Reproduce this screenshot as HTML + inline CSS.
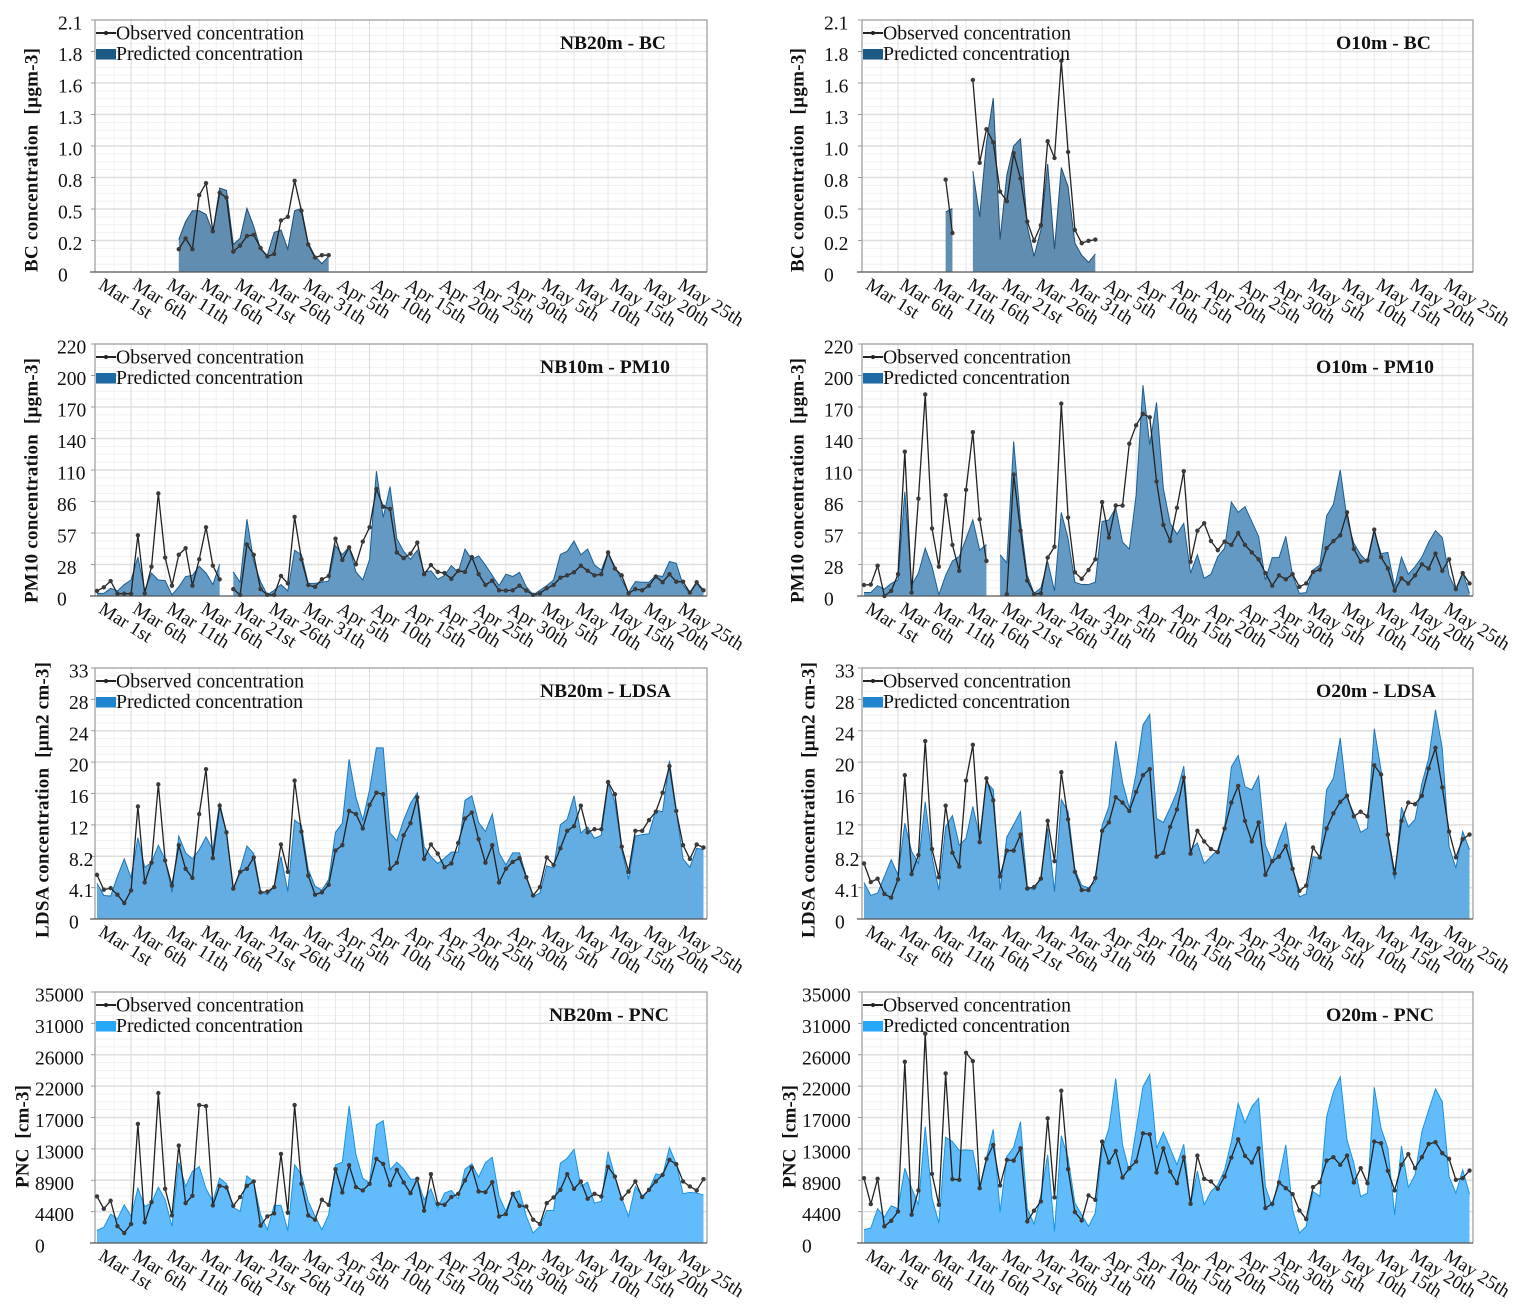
<!DOCTYPE html>
<html lang="en">
<head>
<meta charset="utf-8">
<title>Observed and predicted concentrations</title>
<style>
html,body{margin:0;padding:0;background:#fff;}
svg{display:block;font-family:"Liberation Serif",serif;}
</style>
</head>
<body>
<svg id="figure" xmlns="http://www.w3.org/2000/svg" width="1524" height="1310" viewBox="0 0 1524 1310"></svg>
<script>
const dateLabels = ["Mar 1st","Mar 6th","Mar 11th","Mar 16th","Mar 21st","Mar 26th","Mar 31th","Apr 5th","Apr 10th","Apr 15th","Apr 20th","Apr 25th","Apr 30th","May 5th","May 10th","May 15th","May 20th","May 25th"];
const bcTicks = ["0","0.2","0.5","0.8","1.0","1.3","1.6","1.8","2.1"];
const pm10Ticks = ["0","28","57","86","110","140","170","200","220"];
const ldsaTicks = ["0","4.1","8.2","12","16","20","24","28","33"];
const pncTicks = ["0","4400","8900","13000","17000","22000","26000","31000","35000"];
const bcMax = 2.1;
const pm10Max = 220;
const ldsaMax = 33;
const pncMax = 35000;

const nb20BcObserved = [null,null,null,null,null,null,null,null,null,null,null,null,.19,.28,.19,.64,.74,.34,.66,.62,.17,.22,.30,.31,.20,.13,.15,.43,.46,.76,.51,.23,.12,.14,.14];
const nb20BcPredicted = [null,null,null,null,null,null,null,null,null,null,null,null,.27,.42,.51,.51,.48,.33,.70,.68,.23,.28,.53,.38,.19,.14,.33,.35,.19,.51,.53,.24,.13,.07,.13];

const o10BcObserved = [null,null,null,null,null,null,null,null,null,null,null,null,.77,.325,null,null,1.60,.91,1.19,1.08,.67,.59,.99,.78,.42,.26,.39,1.09,.95,1.76,1.0,.35,.24,.26,.27];
const o10BcPredicted = [null,null,null,null,null,null,null,null,null,null,null,null,.50,.53,null,null,.84,.46,1.08,1.45,.27,.81,1.05,1.11,.38,.13,.35,.90,.19,.87,.71,.24,.14,.08,.15];

const nb10Pm10Observed = [4.4,7.6,13,2,2,2,53,2.3,25.6,89.5,33.5,9,36,41.7,9,32,60,26.5,14.6,null,6,1,45,36,6,1,1,17.5,11,69,32,9.6,8,14.6,17.5,50,31.5,42.5,27.7,47.5,60,93.5,78,76,38,33,37,46.6,19,27,21,20,15,22,21,34,19,9.6,13.4,5,4.7,5,9,4.7,1,2.3,6.7,9.6,16,18,20.7,26.5,22,18,19,38,24,18,2.3,6,5,9,17,12,19,12.5,12.5,3,12,5];
const nb10Pm10Predicted = [2.3,2.3,6.7,4.4,10,14,34,5,20,14,13.4,1,8,17,18,26,20,10,27.7,null,21,12,67,30,12.5,1,5,10,4.4,40,36,11,11,12,13,44,36,43,21,14,32,109,68.5,95.5,50,39,32,40,21,22,14.6,18,26.5,20.7,41,32,35,27,18,9,19,17,20.7,8,1,5,9,14,36.4,39,48,36,41,27,22.7,38,25.6,14,3,12.5,12,12,18,17,30,28.6,9.6,2.3,11,3.8];

const o10Pm10Observed = [9.6,10,26.5,0,4.4,19,126,3,85,176,59,25.6,88,44.6,22,92.7,143,67,30.6,null,null,1.5,106,57,13.4,1.7,2.3,33.5,43,168,68.5,20.7,15,22.7,32,82,51,79,79,133,149,159,156,100,62,48,77,109,30,57,63.5,48,40,47.5,44.6,55,44.6,38,32,20,9,18,14.6,19,8,11,21,23,41.7,48,53,73,41,30,31,58,34,24,4.7,15.4,11,18,27.7,24,37,22,32,6,20,11];
const o10Pm10Predicted = [3,3,9,6,11,14,91,9.6,20,41.7,25.6,1,18,30.6,34.4,50,66.4,40,45,null,36,29,135,65,18,2.3,7,30,4.4,73,50,12,10,10,12,65,66.4,77,47,41,88,184,132,169,94,63.5,54,63.5,20,36,15.4,19,34.4,41.7,82,73,78,65,52,14,33.5,33.5,52,18,2.3,3,22.7,27,70,80,110,67,46,36,30,56,37,38,8,34,19,25.6,34,47,57,51,18,5,20.7,2.3];

const nb20LdsaObserved = [5.8,3.85,4.06,3.2,2.1,3.76,14.8,4.8,7.4,17.7,7.7,4.4,9.7,6.6,5.4,13.8,19.7,8,14.9,11.4,4,6.2,6.6,8.1,3.5,3.6,4.2,9.8,6.2,18.2,11.5,5.7,3.2,3.5,4.5,9,9.7,14.2,13.8,11.9,15,16.6,16.4,6.6,7.4,11,12.6,16,7.9,9.8,8.6,6.8,7.3,10,13.2,14,10.5,7.4,9.7,4.8,6.6,7.5,8,5.5,3.1,4.2,8.1,7.1,9.3,11.6,12.2,14.9,11.4,11.8,11.8,18,16.4,9.5,6.2,11.6,11.6,13,14.1,16.6,20.1,14.2,9.7,7.9,9.8,9.4];
const nb20LdsaPredicted = [4.7,3.1,3,5.6,7.9,5.4,10.7,6.8,7.4,9.7,7.8,3.5,10.9,8.7,7.9,9.1,10.8,9.1,15.3,11.3,3.8,6.5,9.6,8.6,3.6,3.2,4.3,8.2,3.6,13,12.3,6.5,4.3,3.8,5.2,11.4,12.6,21,16,13,17,22.5,22.5,11.3,10.3,13,15.2,16.6,9.5,8.2,7.3,8,8.8,8.8,15.6,16.2,12.7,11.5,13.8,8.7,7.1,8.7,8.7,5.6,3,3.4,7,6.7,12.4,13.1,16.2,11.3,12.1,10.6,11,17.8,15.4,9.1,5.2,10.9,11.1,11.2,14.3,14.1,20.8,14.3,7.9,6.8,9.3,9.1];

const o20LdsaObserved = [7.3,4.85,5.3,3.3,2.8,5.2,18.9,5.9,8.4,23.4,9.2,5.5,14.9,8.7,6.9,18.2,22.9,10.1,18.5,15.6,5.6,9,9,11.1,4,4.2,5.3,12.9,7.6,19.3,13.1,6.2,3.8,3.8,5.4,11.6,12.7,16,15.3,14.2,16.7,18.9,19.7,8.2,8.7,12.1,14.4,18.6,8.6,11.6,10.2,9.2,8.8,11.9,15.3,17.5,12.9,10.2,12.7,5.8,7.6,8.2,9.6,6.6,3.7,4.4,9.4,8.1,11.9,13.9,15.4,16.2,13.5,14.1,13.5,20.2,19,11.1,6,12.9,15.3,15.1,16.2,19.8,22.5,17.3,11.5,8.1,10.5,11.1];
const o20LdsaPredicted = [4.8,3.1,3.4,5.6,7.8,5.8,12.6,8.9,7.3,15.4,8.2,3.8,12.1,13.6,9.7,10.6,14.8,10.8,18,17,3.8,10.8,12.4,14.1,4.3,3.8,5.6,11.9,3.6,15.7,14.1,6.5,4.4,4.1,4.9,12.3,14.8,23.4,18,14.6,19.1,25.5,26.9,13.2,12.7,14.6,16.7,20.1,9.1,10,7.3,8.2,9.1,12.1,20,21.5,17.4,17,18.8,9.7,7.6,10.4,12.6,6.9,2.9,3.3,8.2,8,17,18.5,23.8,15.9,13.9,11.4,11.9,25,19.6,10.8,5.2,14.7,12.1,13.1,17.8,21.1,27.5,22.4,9.5,6.7,11.5,9.1];

const nb20PncObserved = [6490,4775,5890,2365,1390,2640,16600,2875,5700,20900,7560,3850,13580,5560,6580,19240,19100,5240,7970,7740,5190,6400,7970,8580,2410,3710,4130,12420,4220,19240,8250,3850,3245,6030,5330,10290,7050,10850,7790,7325,8250,11730,11030,8070,10200,8440,6950,8950,4500,9600,5470,5330,6400,6860,8720,10520,7190,7090,8480,3710,4030,6860,5190,5100,3245,2640,5560,6350,7420,9600,7560,8580,6170,6860,6490,10620,9270,6170,7190,8580,6400,7420,8580,9500,11590,10990,8580,7880,7325,8900];
const nb20PncPredicted = [1760,2180,4030,3340,5330,3710,7650,5100,5560,7790,6030,2320,11220,7880,9970,10660,7560,5800,9040,8250,4960,4400,9360,8480,3940,1850,5240,5240,1715,10900,9500,5800,3710,1850,3940,10900,11270,19100,12290,9040,8340,16460,17060,10200,11270,10340,8900,8900,6030,7560,4870,6950,7325,6170,10290,11030,9180,11220,11960,6490,4400,6950,7280,3710,1390,2320,4540,4540,11130,11820,13070,7880,8480,5560,5800,12750,9270,6260,3710,7880,6490,7420,9640,9410,13300,11030,6860,7050,6950,6720];

const o20PncObserved = [9040,5420,8950,2320,3100,4400,25270,3940,7325,29200,9640,5330,23640,8900,8810,26520,25360,7650,11730,13680,8020,11590,11500,13210,3010,4500,5800,17390,6350,21230,10290,4310,3150,6630,6030,14140,11220,12840,9130,10430,11360,15300,15160,9830,13210,9970,8340,11960,5470,12190,8950,8580,7560,9270,11910,14460,12150,11220,13210,4870,5470,8440,7650,6810,4540,3340,7790,8480,11500,11960,10900,12190,8440,10430,8340,14140,13910,10060,7325,10900,12380,10430,11960,13820,14050,12520,11730,8810,9040,10100];
const o20PncPredicted = [1850,2090,4775,3620,5190,4775,10430,7650,5330,16230,6260,2780,14740,14140,12890,12980,12890,7650,11820,15860,4310,12050,13350,16920,4775,2640,6720,12290,1620,14970,11820,5560,3940,2320,4170,12980,15990,22950,13680,9970,15760,21790,23500,13210,15440,13210,10900,13770,5330,10060,5330,7190,8110,10200,14140,19470,16780,19010,20170,7880,5100,9040,13680,4640,1390,2320,7190,6490,17620,21090,23180,14370,11130,6490,6950,21700,15990,13210,3940,13540,7740,9500,15530,18540,21470,19700,9270,6950,10200,6810];

const NS = 'http://www.w3.org/2000/svg';
const figure = document.getElementById('figure');
const DAYS = 90;

const panelConfigs = [
  {key:'nb20-bc', title:'NB20m - BC', tx:[560,666], left:95, right:707, top:20, bottom:272, ticks:bcTicks, max:bcMax, obs:nb20BcObserved, pred:nb20BcPredicted, yTitle:'BC concentration\u00a0\u00a0[µgm-3]', tl:[33,272,224], labelX:58, fill:'#5c8aad', line:'#1d4f78', swatch:'#1c5a86'},
  {key:'o10-bc', title:'O10m - BC', tx:[1336,1431], left:862, right:1473, top:20, bottom:272, ticks:bcTicks, max:bcMax, obs:o10BcObserved, pred:o10BcPredicted, yTitle:'BC concentration\u00a0\u00a0[µgm-3]', tl:[799,272,224], labelX:824, fill:'#5c8aad', line:'#1d4f78', swatch:'#1c5a86'},
  {key:'nb10-pm10', title:'NB10m - PM10', tx:[540,670], left:95, right:707, top:344, bottom:596, ticks:pm10Ticks, max:pm10Max, obs:nb10Pm10Observed, pred:nb10Pm10Predicted, yTitle:'PM10 concentration\u00a0\u00a0[µgm-3]', tl:[33,603,245], labelX:57, fill:'#5f96c2', line:'#1b5f92', swatch:'#1d6aa5'},
  {key:'o10-pm10', title:'O10m - PM10', tx:[1316,1434], left:862, right:1473, top:344, bottom:596, ticks:pm10Ticks, max:pm10Max, obs:o10Pm10Observed, pred:o10Pm10Predicted, yTitle:'PM10 concentration\u00a0\u00a0[µgm-3]', tl:[799,603,245], labelX:824, fill:'#5f96c2', line:'#1b5f92', swatch:'#1d6aa5'},
  {key:'nb20-ldsa', title:'NB20m - LDSA', tx:[540,671], left:95, right:707, top:668, bottom:919, ticks:ldsaTicks, max:ldsaMax, obs:nb20LdsaObserved, pred:nb20LdsaPredicted, yTitle:'LDSA concentration\u00a0\u00a0[µm2 cm-3]', tl:[44,938,276], labelX:69, fill:'#5eaae2', line:'#1b78bd', swatch:'#1f84d0'},
  {key:'o20-ldsa', title:'O20m - LDSA', tx:[1316,1436], left:862, right:1473, top:668, bottom:919, ticks:ldsaTicks, max:ldsaMax, obs:o20LdsaObserved, pred:o20LdsaPredicted, yTitle:'LDSA concentration\u00a0\u00a0[µm2 cm-3]', tl:[810,938,276], labelX:835, fill:'#5eaae2', line:'#1b78bd', swatch:'#1f84d0'},
  {key:'nb20-pnc', title:'NB20m - PNC', tx:[549,669], left:95, right:707, top:992, bottom:1243, ticks:pncTicks, max:pncMax, obs:nb20PncObserved, pred:nb20PncPredicted, yTitle:'PNC\u00a0\u00a0[cm-3]', tl:[24,1188,103], labelX:35, fill:'#5dbafc', line:'#1a94df', swatch:'#25a8fb'},
  {key:'o20-pnc', title:'O20m - PNC', tx:[1326,1434], left:862, right:1473, top:992, bottom:1243, ticks:pncTicks, max:pncMax, obs:o20PncObserved, pred:o20PncPredicted, yTitle:'PNC\u00a0\u00a0[cm-3]', tl:[791,1188,103], labelX:802, fill:'#5dbafc', line:'#1a94df', swatch:'#25a8fb'}
];

function mk(tag, attrs, parent, text) {
  const el = document.createElementNS(NS, tag);
  for (const k in attrs) el.setAttribute(k, attrs[k]);
  if (text !== undefined) el.textContent = text;
  (parent || figure).appendChild(el);
  return el;
}

function segments(values) {
  const out = [];
  let cur = [];
  for (let i = 0; i < DAYS; i++) {
    const v = values[i];
    if (v === null || v === undefined) {
      if (cur.length) out.push(cur);
      cur = [];
    } else {
      cur.push(i);
    }
  }
  if (cur.length) out.push(cur);
  return out;
}

function drawPanel(p) {
  const group = mk('g', {});
  
  

  const xScale = i => p.left + 2 + i * (p.right - p.left - 5.5) / (DAYS - 1);
  const yScale = v => p.bottom - (v / p.max) * (p.bottom - p.top);
  const nTicks = p.ticks.length - 1;
  const rowH = (p.bottom - p.top) / nTicks;

  const grid = mk('g', {}, group);
  
  

  for (let t = 0; t < nTicks * 4; t++) {
    if (t % 4 === 0) continue;
    const y = p.bottom - t * rowH / 4;
    const minor = mk('line', {x1:p.left, x2:p.right, y1:y, y2:y, stroke:'#f1f1f1', 'stroke-width':1}, grid);
    
    
  }
  for (let d = 2.5; d < DAYS; d += 2.5) {
    const isMajor = (d % 5 === 0);
    const x = xScale(d);
    if (x >= p.right) continue;
    const strong = (d === 5 || d === 40 || d === 55);
    const vline = mk('line', {x1:x, x2:x, y1:p.top, y2:p.bottom, stroke: strong ? '#d8d8d8' : (isMajor ? '#e8e8e8' : '#f3f3f3'), 'stroke-width':1}, grid);
    
    
  }
  p.ticks.forEach((label, t) => {
    const y = p.bottom - t * rowH;
    if (t > 0 && t < nTicks) {
      const gl = mk('line', {x1:p.left, x2:p.right, y1:y, y2:y, stroke:'#dedede', 'stroke-width':1.6}, grid);
      
      
    }
    const tick = mk('line', {x1:p.left - 4, x2:p.left, y1:y, y2:y, stroke:'#999', 'stroke-width':1}, group);
    
    
    const lab = mk('text', {x:p.labelX, y:y + 9.5, 'font-size':19.5, fill:'#111'}, group, label);
    
    
  });

  segments(p.pred).forEach(seg => {
    let d = 'M' + xScale(seg[0]) + ' ' + p.bottom;
    seg.forEach(i => { d += 'L' + xScale(i).toFixed(2) + ' ' + yScale(p.pred[i]).toFixed(2); });
    d += 'L' + xScale(seg[seg.length - 1]) + ' ' + p.bottom + 'Z';
    const area = mk('path', {d:d, fill:p.fill, 'fill-opacity':0.97, stroke:'none'}, group);
    
    
    const top = 'M' + seg.map(i => xScale(i).toFixed(2) + ' ' + yScale(p.pred[i]).toFixed(2)).join('L');
    const edge = mk('path', {d:top, fill:'none', stroke:p.line, 'stroke-width':1}, group);
    
    
  });

  const frame = mk('path', {d:'M' + p.left + ' ' + p.bottom + 'V' + p.top + 'H' + p.right + 'V' + p.bottom, fill:'none', stroke:'#9a9a9a', 'stroke-width':1.2}, group);
  
  
  const axisX = mk('line', {x1:p.left - 5, x2:p.right, y1:p.bottom, y2:p.bottom, stroke:'#555', 'stroke-width':1.2}, group);
  
  

  segments(p.obs).forEach(seg => {
    const d = 'M' + seg.map(i => xScale(i).toFixed(2) + ' ' + yScale(p.obs[i]).toFixed(2)).join('L');
    const line = mk('path', {d:d, fill:'none', stroke:'#222', 'stroke-width':1.3, 'stroke-linejoin':'round'}, group);
    
    
  });
  for (let i = 0; i < DAYS; i++) {
    const v = p.obs[i];
    if (v === null || v === undefined) continue;
    const dot = mk('circle', {cx:xScale(i).toFixed(2), cy:yScale(v).toFixed(2), r:2.2, fill:'#3a3a3a'}, group);
    
    
  }

  dateLabels.forEach((label, k) => {
    const x = xScale(k * 5) + 0.5;
    const y = p.bottom + 16;
    const tx = mk('text', {x:x, y:y, 'font-size':19, fill:'#111', transform:'rotate(32 ' + x + ' ' + y + ')'}, group, label);
    
    
  });

  const yt = mk('text', {x:p.tl[0], y:p.tl[1], 'font-size':19, 'font-weight':'bold', fill:'#111', textLength:p.tl[2], lengthAdjust:'spacing', transform:'rotate(-90 ' + p.tl[0] + ' ' + p.tl[1] + ')'}, group, p.yTitle);
  
  
  yt.setAttribute('dominant-baseline', 'middle');

  const ttl = mk('text', {x:p.tx[0], y:p.top + 29, 'font-size':18.5, 'font-weight':'bold', fill:'#111', textLength:p.tx[1] - p.tx[0], lengthAdjust:'spacingAndGlyphs'}, group, p.title);
  
  

  const legend = mk('g', {}, group);
  
  
  const lineKey = mk('line', {x1:p.left + 1, x2:p.left + 21, y1:p.top + 13, y2:p.top + 13, stroke:'#222', 'stroke-width':2}, legend);
  
  
  const dotKey = mk('circle', {cx:p.left + 11, cy:p.top + 13, r:2, fill:'#222'}, legend);
  
  
  const obsText = mk('text', {x:p.left + 21, y:p.top + 19.5, 'font-size':19.5, fill:'#111', textLength:188, lengthAdjust:'spacingAndGlyphs'}, legend, 'Observed concentration');
  
  
  const swatch = mk('rect', {x:p.left + 1, y:p.top + 29, width:20, height:10.5, fill:p.swatch}, legend);
  
  
  const predText = mk('text', {x:p.left + 21, y:p.top + 40, 'font-size':19.5, fill:'#111', textLength:187, lengthAdjust:'spacingAndGlyphs'}, legend, 'Predicted concentration');
  
  
}

panelConfigs.forEach(drawPanel);
</script>
</body>
</html>
